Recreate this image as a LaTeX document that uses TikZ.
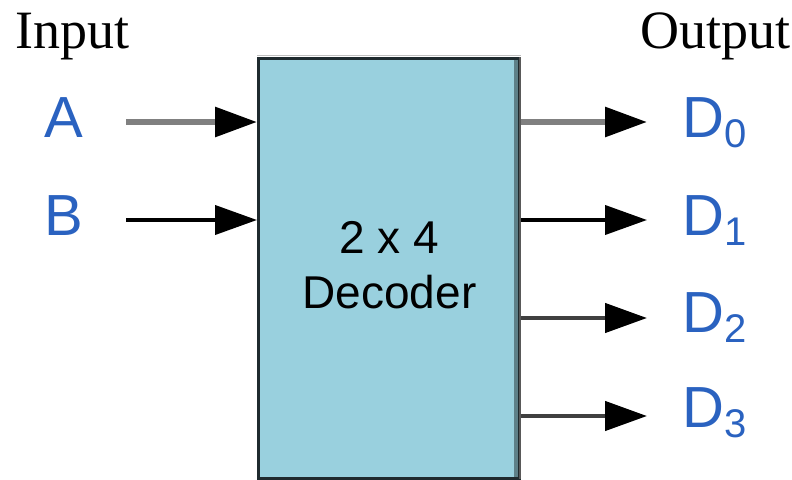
\documentclass[tikz,border=0pt]{standalone}
\usepackage{fontspec}
\setmainfont{Liberation Serif}
\newfontfamily\arial{Liberation Sans}
\usetikzlibrary{arrows.meta}
\definecolor{boxfill}{HTML}{99D0DE}
\definecolor{boxedge}{HTML}{1F2A2E}
\definecolor{rightedge}{HTML}{5E8088}
\definecolor{lblue}{HTML}{2A62C0}
\tikzset{
  lbl/.style={font=\arial\fontsize{58}{58}\selectfont, text=lblue, inner sep=0pt, anchor=base},
  dlbl/.style={font=\arial\fontsize{58}{58}\selectfont, text=lblue, inner sep=0pt, anchor=base west},
  head/.style={font=\fontsize{54}{54}\selectfont, inner sep=0pt, anchor=base west},
  sig/.style={-{Triangle[length=42pt,width=29pt,color=black,fill=black]}, line width=4pt},
}
\newcommand{\dsub}[1]{D{\fontsize{40}{40}\selectfont\raisebox{-10pt}{#1}}}
\begin{document}
\begin{tikzpicture}[x=1pt,y=-1pt]
\useasboundingbox (0,0) rectangle (792,479);
% headings
\node[head] (inp) at (15,48) {Input};
\node[head] (outp) at (640,48) {Output};
% decoder box
\draw[gray!50, line width=1pt] (257,55) -- (521,55);
\node[draw=boxedge, fill=boxfill, line width=3pt, minimum width=261pt, minimum height=420pt, inner sep=0pt] (dec) at (389,268.5) {};
\draw[rightedge, line width=4pt] (516,60) -- (516,477);
\draw[gray!70!black, line width=2pt] (520,57) -- (520,479);
\node[font=\arial\fontsize{46}{55}\selectfont, align=center, inner sep=0pt, anchor=base] (txt) at (389.5,308) {2 x 4\\Decoder};
% input labels
\node[lbl] (A) at (64,137) {A};
\node[lbl] (B) at (64,235) {B};
\coordinate (as) at (126,122);
\coordinate (bs) at (126,220);
\draw[sig, draw=gray, line width=6pt] (as) -- (dec.west |- as);
\draw[sig, draw=black] (bs) -- (dec.west |- bs);
% output labels
\node[dlbl] (D0) at (682,137) {\dsub{0}};
\node[dlbl] (D1) at (682,235) {\dsub{1}};
\node[dlbl] (D2) at (682,332) {\dsub{2}};
\node[dlbl] (D3) at (682,427) {\dsub{3}};
\coordinate (e0) at (647,122);
\coordinate (e1) at (647,220);
\coordinate (e2) at (647,318);
\coordinate (e3) at (647,416);
\draw[sig, draw=gray, line width=6pt] (dec.east |- e0) -- (e0);
\draw[sig, draw=black] (dec.east |- e1) -- (e1);
\draw[sig, draw=black!75, line width=4.5pt] (dec.east |- e2) -- (e2);
\draw[sig, draw=black!75, line width=4.5pt] (dec.east |- e3) -- (e3);
\end{tikzpicture}
\end{document}
